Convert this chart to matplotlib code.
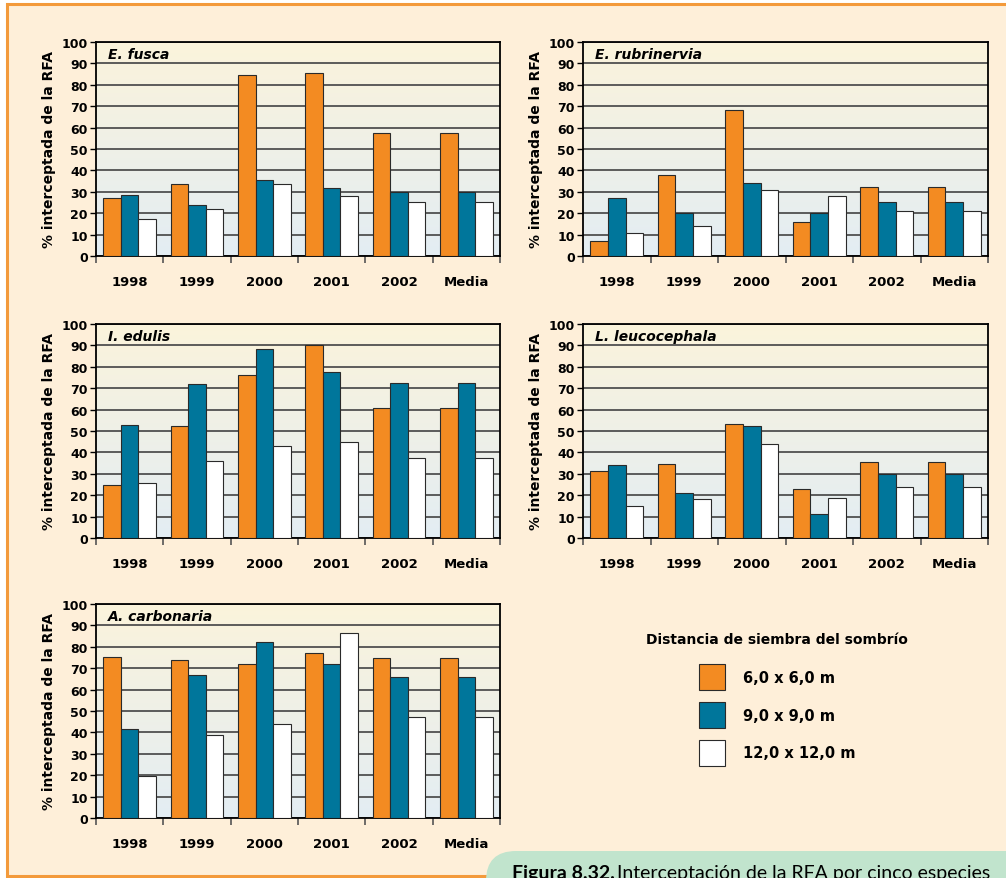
import numpy as np
import matplotlib
matplotlib.use("Agg")
import matplotlib.pyplot as plt
from matplotlib.patches import Rectangle, FancyBboxPatch

# datos
categories = ['1998', '1999', '2000', '2001', '2002', 'Media']
series_names = ['6,0 x 6,0 m', '9,0 x 9,0 m', '12,0 x 12,0 m']
species = ['E. fusca', 'E. rubrinervia', 'I. edulis', 'L. leucocephala', 'A. carbonaria']

fusca_6 = [26.9, 33.5, 84.4, 85.7, 57.5, 57.5]
fusca_9 = [28.5, 24.0, 35.5, 31.8, 29.9, 29.9]
fusca_12 = [17.4, 22.0, 33.6, 28.2, 25.2, 25.2]

rubri_6 = [7.2, 37.7, 68.4, 15.7, 32.2, 32.2]
rubri_9 = [27.3, 19.9, 34.0, 20.2, 25.4, 25.4]
rubri_12 = [10.7, 14.0, 31.0, 28.2, 21.0, 21.0]

edulis_6 = [24.8, 52.4, 76.0, 90.2, 60.8, 60.8]
edulis_9 = [52.9, 71.9, 88.1, 77.4, 72.2, 72.2]
edulis_12 = [25.6, 35.9, 43.1, 44.9, 37.6, 37.6]

leuco_6 = [31.4, 34.8, 53.4, 22.8, 35.4, 35.4]
leuco_9 = [34.3, 21.1, 52.4, 11.4, 30.0, 30.0]
leuco_12 = [15.1, 18.1, 43.8, 18.9, 23.9, 23.9]

carbo_6 = [75.1, 73.7, 71.9, 77.3, 74.8, 74.8]
carbo_9 = [41.4, 66.9, 82.1, 71.9, 65.8, 65.8]
carbo_12 = [19.4, 38.6, 43.9, 86.3, 47.1, 47.1]

all_data = [
    [fusca_6, fusca_9, fusca_12],
    [rubri_6, rubri_9, rubri_12],
    [edulis_6, edulis_9, edulis_12],
    [leuco_6, leuco_9, leuco_12],
    [carbo_6, carbo_9, carbo_12],
]

colors = ['#F38B22', '#00769B', '#FFFFFF']

W, H = 1006, 879
fig = plt.figure(figsize=(W / 100, H / 100), dpi=100, facecolor='white')

# marco naranja
fig.add_artist(Rectangle((0.065, 0.02), 10.5, 8.72, transform=fig.dpi_scale_trans,
                         facecolor='#FEEFD9', edgecolor='#F39A3B', lw=2.2, zorder=-2))

# posiciones de los paneles (px: izquierda, derecha, arriba, abajo)
boxes = [(96, 500, 43, 257), (583, 988, 43, 257),
         (96, 500, 325, 539), (583, 988, 325, 539),
         (96, 500, 605, 819)]

grad = np.linspace(0, 1, 256).reshape(-1, 1)
top_c = np.array([0.985, 0.955, 0.86])
bot_c = np.array([0.89, 0.93, 0.955])
grad_img = bot_c[None, None, :] * (1 - grad[:, :, None]) + top_c[None, None, :] * grad[:, :, None]

x = np.arange(len(categories))
bw = 0.26
handles = []
for i, (l, r, t, b) in enumerate(boxes):
    ax = fig.add_axes([l / W, (H - b) / H, (r - l) / W, (b - t) / H])
    ax.set_facecolor('none')
    ax.imshow(grad_img, extent=[-0.5, 5.5, 0, 100], aspect='auto', origin='lower', zorder=0)
    for k in range(3):
        h = ax.bar(x + (k - 1) * bw, all_data[i][k], bw, color=colors[k],
                   edgecolor='#2a2a2a', linewidth=0.8, zorder=3, label=series_names[k])
        if i == 0:
            handles.append(h)
    ax.set_xlim(-0.5, 5.5)
    ax.set_ylim(0, 100)
    ax.set_yticks(range(0, 101, 10))
    ax.yaxis.grid(True, color='#505050', linewidth=1.3, zorder=1)
    ax.set_axisbelow(True)
    ax.set_xticks(x)
    ax.set_xticklabels(categories, fontsize=9.5, fontweight='bold')
    ax.set_xticks(np.arange(-0.5, 6, 1), minor=True)
    ax.tick_params(axis='x', which='major', length=0, pad=14)
    ax.tick_params(axis='x', which='minor', length=5, color='#555555', width=1.2)
    ax.tick_params(axis='y', length=4, width=1.0, pad=2, labelsize=9)
    for lab in ax.get_yticklabels():
        lab.set_fontweight('bold')
    for s in ax.spines.values():
        s.set_linewidth(1.3)
        s.set_color('black')
    ax.set_ylabel('% interceptada de la RFA', fontsize=10, fontweight='bold', labelpad=4)
    ax.text(0.03, 0.975, species[i], transform=ax.transAxes, fontsize=10,
            fontstyle='italic', fontweight='bold', va='top', ha='left', zorder=5)

leg = fig.legend(handles=handles, labels=series_names, loc='upper center',
                 bbox_to_anchor=(777 / W, 1 - 620 / H), frameon=False,
                 title='Distancia de siembra del sombrío',
                 title_fontproperties={'weight': 'bold', 'size': 10},
                 prop={'weight': 'bold', 'size': 10.5},
                 handlelength=1.8, handleheight=2.36, labelspacing=0.82,
                 handletextpad=1.25)
leg._legend_box.sep = 13

# pie de figura
fig.add_artist(FancyBboxPatch((4.86, -0.3), 6.0, 0.57, transform=fig.dpi_scale_trans,
                              boxstyle='round,pad=0,rounding_size=0.3',
                              facecolor='#C1E4CD', edgecolor='none', zorder=2))
fig.text(5.12 / 10.06, 0.0005, 'Figura 8.32.', fontsize=14, fontweight='bold',
         family=['Lato', 'DejaVu Sans'], va='baseline', ha='left', zorder=3)
fig.text(6.17 / 10.06, 0.0005, 'Interceptación de la RFA por cinco especies', fontsize=14,
         family=['Lato', 'DejaVu Sans'], va='baseline', ha='left', zorder=3)

fig.savefig('out.png', dpi=100, facecolor='white')
